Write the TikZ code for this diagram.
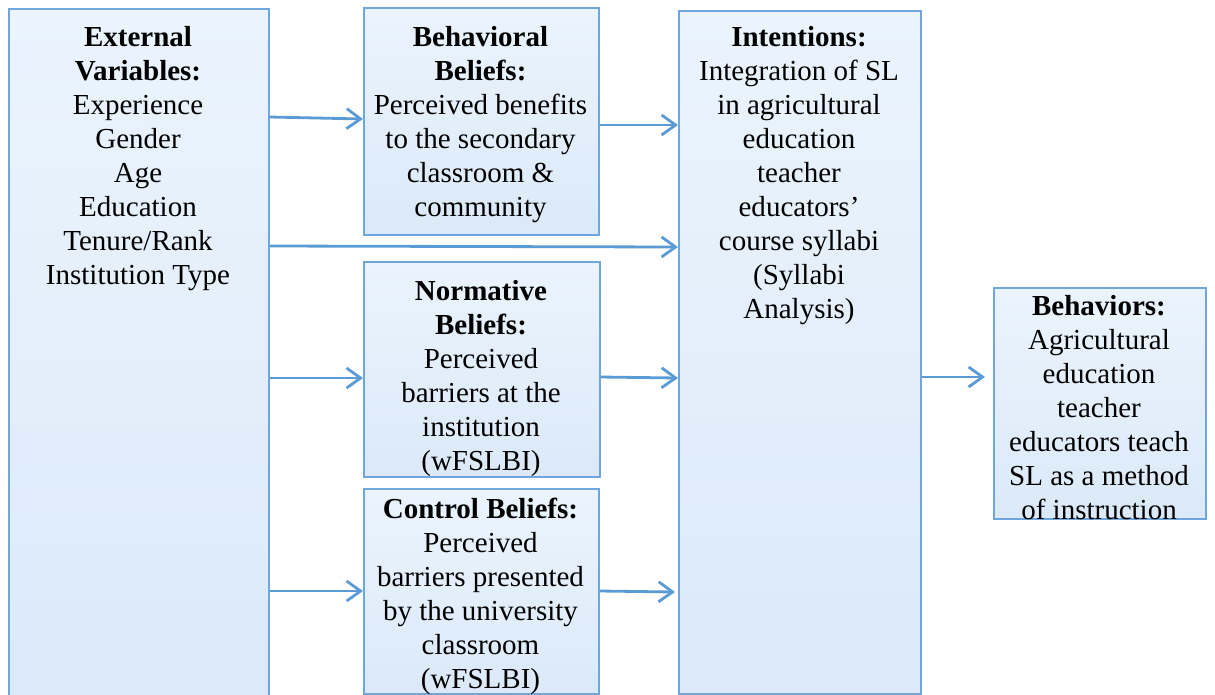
\documentclass[tikz,border=0pt]{standalone}
\usepackage{fontspec}
\setmainfont{Liberation Serif}
\usetikzlibrary{arrows.meta}
\definecolor{boxline}{HTML}{6FA6DC}
\definecolor{boxtop}{HTML}{EBF4FD}
\definecolor{boxbot}{HTML}{DBE9F8}
\definecolor{arrowc}{HTML}{5B9BD5}
\tikzset{
  box/.style={draw=boxline, line width=1.5pt, top color=boxtop, bottom color=boxbot,
    anchor=north west, inner sep=0pt, minimum width=#1},
  box/.default=100pt,
  txt/.style={anchor=north, align=center, inner sep=0pt,
    font=\fontsize{29}{34}\selectfont},
  conn/.style={draw=arrowc, line width=2.8pt,
    -{Straight Barb[length=14pt,width=20pt,line width=2.8pt]}}
}
\begin{document}
\begin{tikzpicture}[x=1pt,y=-1pt]
\useasboundingbox (0,0) rectangle (1215,694);
\clip (0,0) rectangle (1215,694);
% boxes
\node[box=260pt, minimum height=700pt] (ext) at (8,8) {};
\node[box=235pt, minimum height=227pt] (beh) at (363,7) {};
\node[box=236pt, minimum height=215pt] (norm) at (363,261) {};
\node[box=235pt, minimum height=205pt] (ctrl) at (363,488) {};
\node[box=242pt, minimum height=683pt] (int) at (678,10) {};
\node[box=212pt, minimum height=231pt] (bhv) at (993,287) {};
% texts
\node[txt] (extT) at (138,26) {\textbf{External}\\\textbf{Variables:}\\Experience\\Gender\\Age\\Education\\Tenure/Rank\\Institution Type};
\node[txt] (behT) at (480.5,26) {\textbf{Behavioral}\\\textbf{Beliefs:}\\Perceived benefits\\to the secondary\\classroom \&\\community};
\node[txt] (normT) at (481,280) {\textbf{Normative}\\\textbf{Beliefs:}\\Perceived\\barriers at the\\institution\\(wFSLBI)};
\node[txt] (ctrlT) at (480.5,498) {\textbf{Control Beliefs:}\\Perceived\\barriers presented\\by the university\\classroom\\(wFSLBI)};
\node[txt] (intT) at (799,26) {\textbf{Intentions:}\\Integration of SL\\in agricultural\\education\\teacher\\educators’\\course syllabi\\(Syllabi\\Analysis)};
\node[txt] (bhvT) at (1099,295) {\textbf{Behaviors:}\\Agricultural\\education\\teacher\\educators teach\\SL as a method\\of instruction};
% connectors
\draw[conn] (ext.east |- 0,117) -- (beh.west |- 0,119);
\draw[conn] (beh.east |- 0,125) -- (int.west |- 0,125);
\draw[conn] (ext.east |- 0,246) -- (int.west |- 0,247);
\draw[conn] (ext.east |- 0,378) -- (norm.west |- 0,378);
\draw[conn] (norm.east |- 0,377) -- (int.west |- 0,378);
\draw[conn] (ext.east |- 0,591) -- (ctrl.west |- 0,591);
\draw[conn] (ctrl.east |- 0,591) -- ([xshift=-3pt]int.west |- 0,592);
\draw[conn] (int.east |- 0,377) -- ([xshift=-8pt]bhv.west |- 0,377);
\end{tikzpicture}
\end{document}
